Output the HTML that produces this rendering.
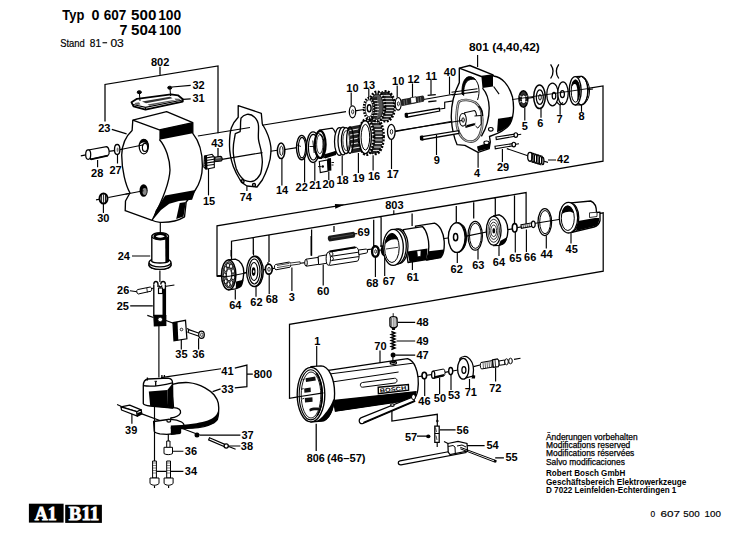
<!DOCTYPE html>
<html><head><meta charset="utf-8"><style>
html,body{margin:0;padding:0;background:#fff;}
svg{display:block;}
</style></head><body>
<svg width="730" height="544" viewBox="0 0 730 544">
<rect width="730" height="544" fill="#fff"/>
<g font-family="Liberation Sans, sans-serif" font-weight="bold" font-size="11" fill="#000">
<text x="151.0" y="65.6">802</text>
<text x="192.4" y="88.5">32</text>
<text x="192.4" y="102.1">31</text>
<text x="98.2" y="131.7">23</text>
<text x="91.1" y="177.2">28</text>
<text x="109.5" y="173.5">27</text>
<text x="97.2" y="221.8">30</text>
<text x="211.2" y="146.7">43</text>
<text x="202.9" y="204.6">15</text>
<text x="239.7" y="200.7">74</text>
<text x="276.0" y="194.1">14</text>
<text x="295.6" y="191.4">22</text>
<text x="309.2" y="189.4">21</text>
<text x="322.4" y="188.2">20</text>
<text x="336.5" y="184.4">18</text>
<text x="352.5" y="182.1">19</text>
<text x="368.0" y="180.3">16</text>
<text x="386.7" y="178.1">17</text>
<text x="346.3" y="91.6">10</text>
<text x="363.0" y="88.7">13</text>
<text x="392.1" y="85.0">10</text>
<text x="407.5" y="82.5">12</text>
<text x="425.6" y="79.5">11</text>
<text x="443.8" y="76.3">40</text>
<text x="521.8" y="129.6">5</text>
<text x="537.2" y="126.7">6</text>
<text x="556.6" y="123.4">7</text>
<text x="578.5" y="120.2">8</text>
<text x="433.8" y="163.8">9</text>
<text x="474.1" y="177.3">4</text>
<text x="496.9" y="171.1">29</text>
<text x="557.1" y="163.3">42</text>
<text x="385.2" y="209.1">803</text>
<text x="357.6" y="236.3">69</text>
<text x="117.7" y="259.7">24</text>
<text x="229.2" y="309.4">64</text>
<text x="250.3" y="305.7">62</text>
<text x="265.7" y="303.2">68</text>
<text x="288.8" y="300.7">3</text>
<text x="317.1" y="295.0">60</text>
<text x="366.2" y="286.6">68</text>
<text x="382.8" y="285.1">67</text>
<text x="406.7" y="280.8">61</text>
<text x="450.6" y="272.7">62</text>
<text x="472.2" y="268.9">63</text>
<text x="492.8" y="265.5">64</text>
<text x="509.3" y="262.4">65</text>
<text x="524.1" y="261.0">66</text>
<text x="540.5" y="257.5">44</text>
<text x="565.6" y="252.7">45</text>
<text x="117.1" y="293.5">26</text>
<text x="116.7" y="309.9">25</text>
<text x="175.3" y="358.2">35</text>
<text x="192.3" y="358.2">36</text>
<text x="221.3" y="374.6">41</text>
<text x="253.7" y="378.1">800</text>
<text x="221.3" y="393.4">33</text>
<text x="125.1" y="434.4">39</text>
<text x="184.8" y="455.3">36</text>
<text x="241.4" y="438.5">37</text>
<text x="240.8" y="450.1">38</text>
<text x="184.8" y="475.2">34</text>
<text x="314.2" y="345.0">1</text>
<text x="374.3" y="350.0">70</text>
<text x="416.5" y="325.6">48</text>
<text x="416.5" y="345.0">49</text>
<text x="416.5" y="358.6">47</text>
<text x="418.3" y="404.6">46</text>
<text x="433.8" y="401.7">50</text>
<text x="447.9" y="399.2">53</text>
<text x="464.7" y="396.3">71</text>
<text x="489.2" y="391.5">72</text>
<text x="456.6" y="433.9">56</text>
<text x="405.0" y="440.5">57</text>
<text x="486.5" y="449.0">54</text>
<text x="505.5" y="460.9">55</text>
</g>
<!-- header -->
<g font-family="Liberation Sans, sans-serif" font-weight="bold" font-size="14.3" fill="#000">
<text x="62.3" y="19.6" textLength="22" lengthAdjust="spacingAndGlyphs">Typ</text>
<text x="91.6" y="19.6">0</text>
<text x="103.7" y="19.6" textLength="22.6" lengthAdjust="spacingAndGlyphs">607</text>
<text x="131.1" y="19.6" textLength="25.3" lengthAdjust="spacingAndGlyphs">500</text>
<text x="158.2" y="19.6" textLength="23" lengthAdjust="spacingAndGlyphs">100</text>
<text x="119.4" y="35">7</text>
<text x="131.1" y="35" textLength="25.3" lengthAdjust="spacingAndGlyphs">504</text>
<text x="158.9" y="35" textLength="22.3" lengthAdjust="spacingAndGlyphs">100</text>
</g>
<g font-family="Liberation Sans, sans-serif" font-size="11.3" fill="#000" stroke="#000" stroke-width="0.2">
<text x="60.2" y="46.8" textLength="24.6" lengthAdjust="spacingAndGlyphs">Stand</text>
<text x="89.8" y="46.8" textLength="11.2" lengthAdjust="spacingAndGlyphs">81</text>
<text x="110.4" y="46.8" textLength="13.4" lengthAdjust="spacingAndGlyphs">03</text>
</g>
<rect x="102.5" y="42.2" width="4.6" height="1.1" fill="#000"/>
<!-- footer -->
<g font-family="Liberation Sans, sans-serif" font-size="8.7" fill="#000" stroke="#000" stroke-width="0.25">
<text x="546" y="439.5" textLength="91.6" lengthAdjust="spacingAndGlyphs">Änderungen vorbehalten</text>
<text x="546" y="447.6" textLength="84.3" lengthAdjust="spacingAndGlyphs">Modifications reserved</text>
<text x="546" y="455.9" textLength="88.3" lengthAdjust="spacingAndGlyphs">Modifications réservées</text>
<text x="546" y="464.6" textLength="78.9" lengthAdjust="spacingAndGlyphs">Salvo modificaciones</text>
</g>
<g font-family="Liberation Sans, sans-serif" font-size="8.7" font-weight="bold" fill="#000">
<text x="546" y="476" textLength="79.3" lengthAdjust="spacingAndGlyphs">Robert Bosch GmbH</text>
<text x="546" y="485.4" textLength="140.2" lengthAdjust="spacingAndGlyphs">Geschäftsbereich Elektrowerkzeuge</text>
<text x="546" y="493.2" textLength="130.4" lengthAdjust="spacingAndGlyphs">D 7022 Leinfelden-Echterdingen 1</text>
</g>
<g font-family="Liberation Sans, sans-serif" font-size="8.3" fill="#000" stroke="#000" stroke-width="0.15">
<text x="650.6" y="517.4">0</text>
<text x="660.5" y="517.4" textLength="19.5" lengthAdjust="spacingAndGlyphs">607</text>
<text x="683.3" y="517.4" textLength="16.3" lengthAdjust="spacingAndGlyphs">500</text>
<text x="704.6" y="517.4" textLength="16.3" lengthAdjust="spacingAndGlyphs">100</text>
</g>
<!-- A1 B11 -->
<rect x="28.9" y="503.7" width="34.7" height="18.9" fill="#000"/>
<rect x="65.2" y="504.8" width="36.7" height="18.1" fill="#000"/>
<g font-family="Liberation Serif, serif" font-weight="bold" font-size="18" fill="#fff" stroke="#fff" stroke-width="0.8">
<text x="34.8" y="519.6" textLength="22" lengthAdjust="spacingAndGlyphs">A1</text>
<text x="68.8" y="519.8" textLength="30.5" lengthAdjust="spacingAndGlyphs">B11</text>
</g>

<!-- lines -->
<g stroke="#000" stroke-width="1.25" fill="none" stroke-linecap="butt">
<!-- 802 bracket -->
<path d="M160,66.8V74.7 M105,121.5V84.5L218,66V133.2 M218,148V157"/>
<path d="M111.8,129.4L126.6,133.8 M172,87L190.7,85.3 M183,99.3L190.7,98.8"/>
<!-- top group box -->
<path d="M588.1,88.4L603,85.9V161.1L420,192.3L217,225.8V275.6H222.3"/>
<!-- 803 bracket -->
<path d="M231.5,259V241.2L526.1,192.6V224.4 M253.3,237.6V254 M269,235V262 M311.6,229.6V255.7 M334,226V232 M373.7,219.7V247 M381.1,217.2V247 M412.1,213.5V226 M456.3,206V223.4 M473.7,202.3V218.5 M495.3,198.6V216 M514.5,195.4V224.4"/>
<!-- middle box right & 806 box -->
<path d="M597.5,213.8L603.2,212.8V271.1L430,301.1L289.5,324.4V398.3L298,396.9"/>
<!-- 800 bracket -->
<path d="M234.8,368.2L246.9,365.1V386.7L234.8,387.8 M246.9,374H252.8"/>
<!-- 806 leader -->
<path d="M316.2,423.7V451.1"/>
<!-- trigger to 56 bracket -->
<path d="M391.9,410.4V421.1L437.3,414.3V420.1"/>
</g>
<!-- axis lines left group -->
<g stroke="#000" stroke-width="1.15" fill="none">
<path d="M80.8,155.9 L86,154.9 M108.6,151.4 L116.1,150.4 M119.5,149.8 L143.8,144.6"/>
<path d="M96,199.9 L99.4,199.3 M108.3,197.5 L143.5,190.6"/>
<path d="M197.9,136 L250,127.5 M262,125.3 L346,111.6"/>
<path d="M222,159.4 L262.5,152.6 M270.5,151.3 L277.5,150.2"/>
</g>
<!-- housing 23 -->
<g stroke="#000" stroke-width="1.35" fill="#fff" stroke-linejoin="round">
<path d="M132.8,120.2 L166.6,111.6 L192.8,122.7 L192.8,133.3 C199,141 202.5,153 202.4,165.7 C202.3,177 199.5,184 195,190.5 L186.2,202 L184.5,216.9 C178,221 170,222.6 160,222.3 C156,222 153.5,221.2 152.1,220.3 L125.2,210.7 L125.5,201 L128.8,195 L130,193 C125.5,185 121.8,170 121.7,155 C122,145 125,137 132.1,130.5 Z"/>
<path d="M132.8,120.2 L159.4,129.8 L192.8,122.7" fill="none"/>
<path d="M159.4,139.5 C166,147 170,160 170,170 C169.5,185 160,205 152.1,220.3" fill="none"/>
</g>
<path d="M159.4,129.8 L192.8,122.7 L192.8,133.3 L159.4,139.8 Z" fill="#000"/>
<path d="M165.2,195.5 L195.5,190 L192.1,199.7 L179,201 L169.3,203.8 L161,210 L152.8,219.7 L155.5,210.7 L160.3,203.1 Z" fill="#000"/>
<path d="M179.7,203.1 L185.9,202 L183.5,216.5 L176.2,219 Z" fill="#000"/>
<!-- holes -->
<ellipse cx="143.8" cy="146.6" rx="4.6" ry="7.3" fill="#fff" stroke="#000" stroke-width="1.25"/>
<path d="M139.6,145 C140,140 143,139.3 145.5,139.6 C148,140.5 148.5,143.5 148.2,146 C147,143 145,142 143,142.5 C141,143 140,144 139.6,145 Z" fill="#000"/>
<ellipse cx="145" cy="147.4" rx="2.6" ry="4" fill="none" stroke="#000" stroke-width="1.15"/>
<ellipse cx="143.6" cy="190.5" rx="4.1" ry="6.3" fill="#000"/>
<ellipse cx="144.6" cy="191.5" rx="2.1" ry="3.4" fill="#888"/>
<path d="M125.5,194.3 L143.5,190.8 M119.5,149.8 L143.8,144.8" stroke="#000" stroke-width="1.15"/>
<!-- 28 -->
<g stroke="#000" stroke-width="1.25" fill="#fff">
<path d="M88.4,150 L106.5,146.6 C109.5,147.5 110,154 107.9,155.5 L90.6,159.3 Z"/>
<ellipse cx="88.2" cy="154.6" rx="2.5" ry="4.8"/>
<path d="M90.8,159.3 L107.9,155.6" stroke-width="1.8"/>
<path d="M97.6,160 V167.2 M117.5,154.5 V163.4" stroke-width="1.15"/>
</g>
<!-- 27 washer -->
<ellipse cx="117.2" cy="149.5" rx="2.7" ry="5" fill="#fff" stroke="#000" stroke-width="1.35"/>
<ellipse cx="117.6" cy="149.7" rx="1" ry="2.3" fill="#777"/>
<!-- 30 -->
<ellipse cx="103.5" cy="198.5" rx="4" ry="5" fill="#fff" stroke="#000" stroke-width="2"/>
<path d="M101.6,195 V202 M103.6,194.3 V202.7 M105.5,195 V202" stroke="#000" stroke-width="0.9"/>
<path d="M103.4,203.6 V212.9" stroke="#000" stroke-width="1.15"/>
<!-- 15 pinion -->
<path d="M204.5,156 L212,154.3 L214.3,157 L214.3,167.5 L206,169.2 L203.8,167 Z" fill="#fff" stroke="#000" stroke-width="1.1"/>
<path d="M204.5,158.2 L213.5,156.6 M204.3,160.7 L214,159.3 M204.2,163.2 L214,161.9 M204.2,165.7 L214,164.5" stroke="#000" stroke-width="1.1"/>
<path d="M204.5,155.8 L207,155.3 L207.5,169 L205,169.2 Z" fill="#000"/>
<path d="M208.5,169 V195.4" stroke="#000" stroke-width="1.15"/>
<!-- 43 pin -->
<path d="M214.3,157.3 L220.5,156.4 C222.5,156.8 222.8,160.2 221.3,161 L214.8,161.7 Z" fill="#444" stroke="#000" stroke-width="1.1"/>
<path d="M216,158.2 L220.5,157.6" stroke="#ccc" stroke-width="0.8"/>
<!-- gasket 74 -->
<g stroke="#000" stroke-width="1.35" fill="none" stroke-linejoin="round">
<path d="M238.2,105.6 L261.3,113.3 L262.3,124 C264.5,127.5 266.5,131 268.1,135.6 C270,141 271.2,146 271,151 C270.8,157 269.8,162 268.1,166.5 C266.5,171 264.5,176 262.3,180 L257,187 L246.9,186 C244,184.5 242,182.5 240.1,180 C237,175 235,171 233.3,166.5 C231,160 229.5,153 229.5,145.2 C229.5,138 230,132 231.4,127.8 C233,123 235.5,120 238.2,117.2 Z"/>
<path d="M241,118.2 C242.5,116 244.5,114.8 246.9,114.3 C249.5,114 252.5,115 254.6,117.2 C257,119.5 258.3,122.5 258.5,125.9 C258.8,130 258,135 258.5,139.4 C259,144 261,148 261.4,153 C262,157 262.5,160 262.3,162.6 C262,167 261.5,171 260.4,174.2 C258.5,177.5 256,180 253.6,181 C250.5,182 247,181.5 244,180 C240.5,177 238,173 236.2,168.4 C234.5,163 233.5,158 233.3,153 C233,148 233.5,143 234.3,139.4 L235.3,133.6 L240.1,131.7 L240.5,127 C240.5,124 240.5,121 241,118.2 Z"/>
<circle cx="242.6" cy="181.2" r="1.5"/>
<circle cx="254" cy="185" r="1.5"/>
<path d="M246.9,186.3 V191" stroke-width="1.15"/>
</g>
<!-- upper axis continues -->
<g stroke="#000" stroke-width="1.15" fill="none">
<path d="M355,110.9 L364,109.5 M401.3,103.6 L403,103.3 M423.5,99.5 L455,94"/>
<path d="M283.5,149.8 L297,147.6 M394.7,131.6 L455,120.7"/>
</g>
<!-- washer 14 -->
<ellipse cx="281.1" cy="150.8" rx="3.7" ry="7.8" fill="#fff" stroke="#000" stroke-width="1.5"/>
<ellipse cx="281.4" cy="150.8" rx="1.7" ry="4.6" fill="#fff" stroke="#000" stroke-width="1"/>
<path d="M281.9,158.6 V185.5" stroke="#000" stroke-width="1.15"/>
<!-- ring 22 -->
<ellipse cx="301.7" cy="147.6" rx="5.2" ry="12.2" fill="#fff" stroke="#000" stroke-width="1.4"/>
<ellipse cx="302" cy="147.6" rx="3.6" ry="10.2" fill="none" stroke="#000" stroke-width="1.1"/>
<path d="M297,145 L301,146.5" stroke="#000" stroke-width="0.8"/>
<path d="M304.6,157.4 V182.5" stroke="#000" stroke-width="1.15"/>
<!-- ring 21 -->
<ellipse cx="313.1" cy="147.2" rx="6.6" ry="15.3" fill="#fff" stroke="#000" stroke-width="1.4"/>
<ellipse cx="313.3" cy="147.2" rx="4.9" ry="12.8" fill="none" stroke="#000" stroke-width="1.15"/>
<path d="M309.5,146.5 H316.5 M312.8,140.5 L314.2,153" stroke="#000" stroke-width="0.9"/>
<path d="M314.8,162.5 V180.8" stroke="#000" stroke-width="1.15"/>
<!-- part 20 bearing holder -->
<path d="M319.5,130.2 L332.1,128.1 C336.5,131 337.8,142 336.9,151 L324,157.5 Z" fill="#fff" stroke="#000" stroke-width="1.25"/>
<path d="M324,154.5 L336.9,150.5 L336,155 L325,158.5 Z" fill="#000"/>
<ellipse cx="320.2" cy="144.4" rx="5.4" ry="13.6" fill="#fff" stroke="#000" stroke-width="2.2"/>
<path d="M317.5,133.5 C322,132 324.5,138 324.8,145 C325,151 323.5,156 321,157 C323,152 323.5,147 323.2,142 C323,138 321,134.5 317.5,133.5 Z" fill="#000"/>
<ellipse cx="319.8" cy="144.2" rx="3.2" ry="9.5" fill="none" stroke="#000" stroke-width="0.8"/>
<path d="M319.3,161.5 L327.5,160 L328,171 L320.3,172.5 Z" fill="#fff" stroke="#000" stroke-width="1.1"/>
<path d="M327.5,158.5 L331,158 L331.4,170.5 L328,171 Z" fill="#000"/>
<circle cx="322.8" cy="166.5" r="1.2" fill="#000"/>
<path d="M318,166.6 L321.5,166.6" stroke="#000" stroke-width="0.9"/>
<path d="M331.5,162.5 H334 M331.5,165 H333.5" stroke="#000" stroke-width="0.9"/>
<path d="M328.8,171.5 V180" stroke="#000" stroke-width="1.15"/>
<!-- rings 18 -->
<ellipse cx="339.5" cy="141.5" rx="5" ry="13.8" fill="#fff" stroke="#000" stroke-width="1.25"/>
<ellipse cx="343" cy="141" rx="5" ry="13.8" fill="#fff" stroke="#000" stroke-width="1.25"/>
<ellipse cx="346" cy="140.6" rx="4.6" ry="13" fill="#fff" stroke="#000" stroke-width="1.25"/>
<ellipse cx="346.2" cy="140.6" rx="3.3" ry="10" fill="none" stroke="#000" stroke-width="0.8"/>
<path d="M342.2,155.5 V175.5" stroke="#000" stroke-width="1.15"/>
<!-- 19 spline -->
<path d="M348.5,127 L361.5,124.6 L365.5,150.8 L352,153.2 Z" fill="#222"/>
<path d="M349.5,130.5 L362.5,128.2 M350,135 L363.2,132.7 M350.5,139.5 L364,137.2 M351,144 L364.6,141.7 M351.4,148.5 L365,146.2" stroke="#eee" stroke-width="1.1"/>
<ellipse cx="350" cy="140.2" rx="3.4" ry="13.2" fill="none" stroke="#000" stroke-width="1.3"/>
<path d="M358.4,153 V173" stroke="#000" stroke-width="1.15"/>
<!-- gear 16 -->
<ellipse cx="375.5" cy="136.3" rx="7.8" ry="17.3" fill="#333" stroke="#000" stroke-width="3.2" stroke-dasharray="1.8 1.4"/>
<path d="M366,119 L375.5,119 L375.5,153.6 L366,154 Z" fill="#222"/>
<path d="M366,122.5 H379 M366,126 H381 M366,129.5 H382 M366,133 H382.5 M366,136.5 H382.5 M366,140 H382.5 M366,143.5 H382 M366,147 H381 M366,150.5 H379" stroke="#ddd" stroke-width="1"/>
<ellipse cx="366.5" cy="137" rx="7.4" ry="17.6" fill="#fff" stroke="#000" stroke-width="3" stroke-dasharray="1.8 1.4" stroke-dashoffset="0.5"/>
<ellipse cx="365.2" cy="137.2" rx="6.2" ry="16.4" fill="#fff" stroke="#000" stroke-width="1.4"/>
<ellipse cx="365.4" cy="137.2" rx="4.3" ry="12.8" fill="#fff" stroke="#000" stroke-width="1"/>
<path d="M373.1,155.3 V170.5" stroke="#000" stroke-width="1.15"/>
<!-- washer 17 -->
<ellipse cx="391.3" cy="131.8" rx="3.8" ry="7.5" fill="#fff" stroke="#000" stroke-width="1.25"/>
<ellipse cx="391.5" cy="131.8" rx="1.2" ry="2.3" fill="#fff" stroke="#000" stroke-width="0.8"/>
<path d="M391.5,139.3 V169" stroke="#000" stroke-width="1.15"/>
<!-- washer 10 left -->
<ellipse cx="352.5" cy="111.8" rx="3.2" ry="6" fill="#fff" stroke="#000" stroke-width="1.25"/>
<ellipse cx="352.7" cy="111.8" rx="1.1" ry="2" fill="#fff" stroke="#000" stroke-width="0.8"/>
<path d="M351.2,92.5 V105.8" stroke="#000" stroke-width="1.15"/>
<!-- gear 13 -->
<ellipse cx="386" cy="106.3" rx="8.6" ry="14.8" fill="#333" stroke="#000" stroke-width="3" stroke-dasharray="1.8 1.4"/>
<path d="M377,92.5 L386,91.8 L386,121 L377,121 Z" fill="#222"/>
<path d="M377,95.5 H390 M377,98.5 H392 M377,101.5 H393.5 M377,104.5 H394 M377,107.5 H394 M377,110.5 H393.5 M377,113.5 H392.5 M377,116.5 H391 M377,119.3 H388.5" stroke="#ddd" stroke-width="0.9"/>
<ellipse cx="377" cy="106.6" rx="7.8" ry="14.6" fill="#fff" stroke="#000" stroke-width="3" stroke-dasharray="1.8 1.4"/>
<ellipse cx="377" cy="106.6" rx="6.3" ry="12.8" fill="#555" stroke="#000" stroke-width="0.8"/>
<path d="M369,98 L377,97 L377,117.5 L369,118.6 Z" fill="#222"/>
<path d="M369,100.5 H377.5 M369,103.5 H378.5 M369,106.5 H379 M369,109.5 H379 M369,112.5 H378.5 M369,115.5 H377.5" stroke="#ddd" stroke-width="0.9"/>
<ellipse cx="369" cy="108.3" rx="5" ry="10.2" fill="#fff" stroke="#000" stroke-width="2.6" stroke-dasharray="1.5 1.2"/>
<ellipse cx="369" cy="108.3" rx="3.8" ry="8.6" fill="#fff" stroke="#000" stroke-width="0.8"/>
<ellipse cx="369.2" cy="108.3" rx="1.9" ry="3.6" fill="#fff" stroke="#000" stroke-width="1.4"/>
<path d="M368.8,89 V97" stroke="#000" stroke-width="1.15"/>
<!-- washer 10 right -->
<ellipse cx="398.2" cy="103.8" rx="3" ry="6.3" fill="#fff" stroke="#000" stroke-width="1.25"/>
<ellipse cx="398.4" cy="103.8" rx="1" ry="2" fill="#fff" stroke="#000" stroke-width="0.8"/>
<path d="M397.2,85.5 V97.3" stroke="#000" stroke-width="1.15"/>
<!-- 12 -->
<path d="M401.8,99.2 L423,95.4 C424.8,96.5 424.8,101 423.3,101.8 L402.5,106 C400.5,105 400.5,100.5 401.8,99.2 Z" fill="#222"/>
<path d="M404,100 L404.5,105 M406.5,99.5 L407,104.5 M418,97.4 L418.5,102.6 M420.5,97 L421,102" stroke="#888" stroke-width="0.7"/>
<path d="M410.4,97.8 L416,96.8 L416.6,102.4 L411,103.5 Z" fill="#fff" stroke="#000" stroke-width="0.7"/>
<path d="M412.5,83.5 V97" stroke="#000" stroke-width="1.15"/>
<!-- 11 -->
<path d="M427.6,95.4 L435.8,94.6 M428.3,101.8 L436.5,100.9" stroke="#000" stroke-width="1.4"/>
<path d="M431,80 V94.7" stroke="#000" stroke-width="1.15"/>
<!-- 40 leader -->
<path d="M449.5,76.5 V94.5" stroke="#000" stroke-width="1.15"/>
<!-- 9 upper rod -->
<path d="M406.5,113.8 L439.3,108.3 L439.7,111 L406.9,117.2 Z" fill="#fff" stroke="#000" stroke-width="1.2"/>
<path d="M404.6,114 C404.4,113 406.3,112.6 407.6,112.8 L408.2,117.4 C406.8,117.9 405,117.8 404.8,117 Z" fill="#000"/>
<path d="M440,109 L444.7,108.2 V102.2 L455,100.6" stroke="#000" stroke-width="1.15" fill="none"/>
<!-- housing 4 (801) -->
<path d="M477.6,55 V67" stroke="#000" stroke-width="1.15"/>
<g stroke="#000" stroke-width="1.35" fill="#fff" stroke-linejoin="round">
<path d="M459.3,68.2 L469.8,65.5 L493,74.9 L493.6,76 C502,77 509,85 512.5,97 C514.5,108 513,118 510,124 C506,130 498,133.5 489.5,136.5 L490.3,141.9 L489.2,148.6 L478.1,152.4 L464.9,145.3 L457.1,144.7 C455,140 452,130 451.3,118 C451,106 453,95 459.3,82.6 Z"/>
<path d="M459.3,68.2 L481.4,76.5 L493,74.9" fill="none"/>
<path d="M482.5,88.1 C486,92 489,100 489.2,108 C489.2,118 487,127 481.4,136.4" fill="none"/>
<path d="M493.6,86.5 L499.1,94.2" fill="none" stroke-width="1.15"/>
<path d="M459,101.6 C463,99 470,99.5 475.6,102.7 C479,105.5 481,109 481.6,113 C482.5,118 482.5,123 482,127 C481,131.5 480.5,134 478.5,137 C476.5,140 474.5,141.3 471.5,141.6 C467.5,141.8 464.5,140.5 462,137.5 C459.5,134.5 457.8,130.5 457,126 C456.3,121 456.3,115 457,110.5 C457.5,106 458,103.5 459,101.6 Z" stroke-width="2.6" stroke="#444"/>
<path d="M459,101.6 C463,99 470,99.5 475.6,102.7 C479,105.5 481,109 481.6,113 C482.5,118 482.5,123 482,127 C481,131.5 480.5,134 478.5,137 C476.5,140 474.5,141.3 471.5,141.6 C467.5,141.8 464.5,140.5 462,137.5 C459.5,134.5 457.8,130.5 457,126 C456.3,121 456.3,115 457,110.5 C457.5,106 458,103.5 459,101.6 Z" fill="none" stroke-width="0.7" stroke="#fff"/>
<path d="M463,95 C462,86 464,79 468.5,77 C473,76 477,80 478.5,86 C479.5,91 479,96 477.5,100" fill="none" stroke-width="1"/>
</g>
<path d="M481.4,76.5 L493,74.9 L493,86.5 L482.5,88.1 Z" fill="#000"/>
<path d="M462,94 C461.5,87 463,80 467,77.2 C470,76.3 473,77 475.5,79.5 C472,78.8 468.5,79.5 466.5,82 C464.5,85 463.5,89 463.8,95.5 Z" fill="#000" stroke="#000" stroke-width="0.8"/>
<path d="M498,118.8 L512.3,116.6 C511.5,121 510.5,123.5 509,125.4 C506,128 503,130 497,132.3 Z" fill="#000"/>
<path d="M477,146.4 L490.3,141.9 L489.2,148.6 L478.1,151.2 Z" fill="#000"/>
<!-- boss -->
<path d="M464.6,112.7 L474.5,110.5 C477,112 477.5,122 474.5,124.8 L466,127.2 Z" fill="#fff" stroke="#000" stroke-width="1.1"/>
<path d="M467,125 L474.8,123 C474.6,124 474.5,124.5 474.5,124.8 L466,127.3 Z" fill="#000"/>
<path d="M474.5,116 L481,115.5 L481.2,124 L477.8,128.1 L475.5,126" fill="#fff" stroke="#000" stroke-width="1"/>
<ellipse cx="462.9" cy="119.8" rx="3.4" ry="6.3" fill="#fff" stroke="#000" stroke-width="1.1"/>
<ellipse cx="463.1" cy="120" rx="1.2" ry="2.2" fill="#fff" stroke="#000" stroke-width="1"/>
<path d="M478.5,106 C481,108 482.5,112 482.5,116" stroke="#000" stroke-width="1.6" fill="none"/>
<ellipse cx="490.8" cy="129.3" rx="2.3" ry="1.8" fill="#fff" stroke="#000" stroke-width="1.15"/>
<ellipse cx="486.5" cy="142.8" rx="2.6" ry="1.8" fill="#fff" stroke="#000" stroke-width="1.15"/>
<!-- rod 40 through top -->
<path d="M451.5,92.2 L477.5,88.8 M451.8,95 L477.8,91.6" stroke="#000" stroke-width="1.15"/>
<path d="M395,131 L462,120.5" stroke="#000" stroke-width="1.15"/>
<!-- lower rod 9 -->
<path d="M422,136.6 L458.6,130.6 L459,133.4 L422.4,139.7 Z" fill="#fff" stroke="#000" stroke-width="1.2"/>
<path d="M419.8,136.8 C419.6,135.8 421.5,135.4 423,135.6 L423.6,140.3 C422,140.8 420.2,140.6 420,139.8 Z" fill="#000"/>
<path d="M436.5,135 V155" stroke="#000" stroke-width="1.15"/>
<!-- screws 29 -->
<g stroke="#000" stroke-width="1.15" fill="#fff">
<path d="M496,137 L514.5,134.2 L514.8,136.3 L496.3,139.5 Z"/>
<ellipse cx="515.8" cy="135" rx="1.8" ry="2.3"/>
<path d="M495,146.3 L512.5,143.6 L512.8,145.8 L495.3,148.8 Z"/>
<ellipse cx="513.8" cy="144.5" rx="1.8" ry="2.3"/>
<path d="M517.8,134.7 L521.2,134.2 M515.8,144.3 L519,143.8" fill="none"/>
<path d="M478.1,152.4 V167.8 M502.4,149 V162" fill="none"/>
<path d="M506.8,148.6 L530,156.5" fill="none"/>
</g>
<!-- spring 42 -->
<g stroke="#000" fill="none">
<path d="M530.5,152.5 L543,156.5 M528.8,161 L541.3,165" stroke-width="0.9"/>
<ellipse cx="530" cy="156.8" rx="2.3" ry="4.4" fill="#fff" stroke-width="1.3"/>
<ellipse cx="533" cy="157.8" rx="1.2" ry="4.3" stroke-width="1.3"/>
<ellipse cx="535.5" cy="158.6" rx="1.2" ry="4.3" stroke-width="1.3"/>
<ellipse cx="538" cy="159.4" rx="1.2" ry="4.2" stroke-width="1.3"/>
<ellipse cx="540.5" cy="160.2" rx="1.2" ry="4" stroke-width="1.3"/>
<ellipse cx="542.8" cy="161" rx="1.1" ry="3.6" stroke-width="1.3"/>
<path d="M544,161.3 L548,162.4 M548,160 H556" stroke-width="1.15"/>
</g>
<!-- nut 5 -->
<ellipse cx="523.4" cy="99" rx="4.4" ry="8.2" fill="#333" stroke="#000" stroke-width="1.6"/>
<ellipse cx="523.6" cy="99.3" rx="2.3" ry="4.4" fill="#fff" stroke="#000" stroke-width="1"/>
<path d="M519.5,96 L521.5,96.5 M519.5,102 L521.5,101.5 M525.5,96.5 L527.5,96 M525.5,101.5 L527.5,102" stroke="#fff" stroke-width="0.9"/>
<path d="M524.8,107.3 V120.5" stroke="#000" stroke-width="1.15"/>
<!-- washer 6 -->
<ellipse cx="539.5" cy="96.8" rx="5.8" ry="11.8" fill="#fff" stroke="#000" stroke-width="1.5"/>
<ellipse cx="539.8" cy="97.2" rx="3.5" ry="7.3" fill="none" stroke="#000" stroke-width="1.25"/>
<ellipse cx="540" cy="97.3" rx="1.3" ry="2.8" fill="none" stroke="#000" stroke-width="1"/>
<path d="M541,108.8 V117.8" stroke="#000" stroke-width="1.15"/>
<!-- 7 -->
<ellipse cx="552.5" cy="94.4" rx="5.7" ry="11.4" fill="#fff" stroke="#000" stroke-width="1.25"/>
<ellipse cx="554" cy="95.8" rx="1.8" ry="3.4" fill="none" stroke="#000" stroke-width="1.25"/>
<ellipse cx="563" cy="93.2" rx="5.2" ry="11.4" fill="#fff" stroke="#000" stroke-width="1.25"/>
<ellipse cx="562.4" cy="94.2" rx="2" ry="3.5" fill="none" stroke="#000" stroke-width="1.25"/>
<path d="M556.3,101.8 L560.1,105.2 L562.9,102.3 M560.1,105.2 V114.8" stroke="#000" stroke-width="1.15" fill="none"/>
<!-- 8 -->
<ellipse cx="581.5" cy="90.6" rx="6.3" ry="14.3" fill="#fff" stroke="#000" stroke-width="1.25"/>
<path d="M582,77 C586,79 588,85 588,91 C588,97 586,102 582,104.5 M584.5,77.8 C587.5,80.5 589.5,85.5 589.5,91 C589.5,96.5 587.5,101 584.5,103.8" fill="none" stroke="#000" stroke-width="1"/>
<path d="M575,76.6 L581.5,76.3 M575,105 L581.5,104.9" stroke="#000" stroke-width="1.2"/>
<ellipse cx="575.2" cy="90.8" rx="6" ry="14.2" fill="#fff" stroke="#000" stroke-width="1.35"/>
<ellipse cx="575.5" cy="91" rx="4.3" ry="11.2" fill="#fff" stroke="#000" stroke-width="1"/>
<path d="M571.5,88 C571.5,82 573.5,79.8 576,80 C578.5,80.5 579.8,85 579.8,91 C579.5,96 578.5,100 577,101.8 C577.8,96 577.8,90 576.6,86 C575.5,83 573,83.5 571.5,88 Z" fill="#000"/>
<path d="M581.5,104.8 V111.8" stroke="#000" stroke-width="1.15"/>
<path d="M528,98.3 L533.7,97.4 M545.3,96 L546.5,95.8 M558,94.5 L558,94.5 M587,89.8 L593,89" stroke="#000" stroke-width="1.15"/>
<path d="M512,99.6 L588,88.6" stroke="#000" stroke-width="0.9"/>
<!-- middle group axis -->
<g stroke="#000" stroke-width="1.15" fill="none">
<path d="M223.3,275.7 L253.1,271.5 M258,270.7 L266,269.4 M272,268.6 L275,268.2"/>
<path d="M290.3,264.5 L300.1,263.3 L305.6,262.6"/>
<path d="M367.2,249.6 L372.5,249 M378.5,250.3 L382,250 M386,249.6 L398,248"/>
<path d="M426,241 L448,238 M465.3,236.4 L492.5,230.8 M507.9,229.6 L514,228.6 M516.5,227.7 L521.4,226.9 M534,223.5 L562,219"/>
</g>
<!-- bearing 64 left -->
<path d="M228.7,259.9 L235.3,259.1 C240.5,260.5 244,266 243.8,272.5 C243.6,280 241,286.5 235.7,288.9 L228.7,289.7 Z" fill="#fff" stroke="#000" stroke-width="1.35"/>
<path d="M236.1,281.5 L243.6,279.8 C243.2,283 242.2,285.5 241.5,286.4 C240,288 238,288.8 235.7,288.9 Z" fill="#000"/>
<ellipse cx="228.7" cy="274.8" rx="7.2" ry="14.9" fill="#fff" stroke="#000" stroke-width="1.5"/>
<ellipse cx="228.9" cy="274.8" rx="6" ry="13.2" fill="#888" stroke="#000" stroke-width="0.8"/>
<ellipse cx="229" cy="274.8" rx="2.6" ry="6" fill="#fff" stroke="#000" stroke-width="0.8"/>
<ellipse cx="233.1" cy="277.6" rx="1.5" ry="2.3" fill="#fff" stroke="#000" stroke-width="0.9"/>
<ellipse cx="231.3" cy="282.9" rx="1.5" ry="2.3" fill="#fff" stroke="#000" stroke-width="0.9"/>
<ellipse cx="228.5" cy="284.3" rx="1.5" ry="2.3" fill="#fff" stroke="#000" stroke-width="0.9"/>
<ellipse cx="225.8" cy="281.3" rx="1.5" ry="2.3" fill="#fff" stroke="#000" stroke-width="0.9"/>
<ellipse cx="224.7" cy="275.3" rx="1.5" ry="2.3" fill="#fff" stroke="#000" stroke-width="0.9"/>
<ellipse cx="225.6" cy="269.0" rx="1.5" ry="2.3" fill="#fff" stroke="#000" stroke-width="0.9"/>
<ellipse cx="228.0" cy="265.4" rx="1.5" ry="2.3" fill="#fff" stroke="#000" stroke-width="0.9"/>
<ellipse cx="231.0" cy="266.3" rx="1.5" ry="2.3" fill="#fff" stroke="#000" stroke-width="0.9"/>
<ellipse cx="233.0" cy="271.1" rx="1.5" ry="2.3" fill="#fff" stroke="#000" stroke-width="0.9"/>
<path d="M216.7,276.5 L229,276.3 L253,271.6" stroke="#000" stroke-width="1" fill="none"/>
<path d="M231.1,250 V256.6 M235.3,289.7 V299.5" stroke="#000" stroke-width="1.15"/>
<!-- disk 62 left -->
<ellipse cx="255.3" cy="271.3" rx="8" ry="15" fill="#fff" stroke="#000" stroke-width="1.35"/>
<path d="M261,282 C262.5,278 263.2,274 263,270 L263.3,271.5 C263.3,279 261,284.5 257,286.3 Z" fill="#000"/>
<ellipse cx="254.3" cy="271.5" rx="7.7" ry="15" fill="#fff" stroke="#000" stroke-width="1.35"/>
<ellipse cx="254.3" cy="271.5" rx="5.7" ry="12.5" fill="none" stroke="#000" stroke-width="1.15"/>
<ellipse cx="254" cy="271.5" rx="3.8" ry="9" fill="none" stroke="#000" stroke-width="1.15"/>
<ellipse cx="253.6" cy="271.6" rx="1.9" ry="4.3" fill="#000"/>
<ellipse cx="253.7" cy="271.6" rx="0.7" ry="1.5" fill="#fff"/>
<path d="M253.5,250 V255.5 M256,286.4 V296.8" stroke="#000" stroke-width="1.15"/>
<!-- washer 68 left -->
<ellipse cx="268.8" cy="269.2" rx="3.4" ry="5" fill="#fff" stroke="#000" stroke-width="1.8"/>
<ellipse cx="269" cy="269.3" rx="1.2" ry="2" fill="#fff" stroke="#000" stroke-width="0.8"/>
<path d="M268,262 V264 M269.2,274.4 V294" stroke="#000" stroke-width="1.15"/>
<!-- 3 -->
<path d="M275.5,264.5 L289.5,262 C291,262.5 291.2,266.5 290,267.2 L276,269.8 C274,269.5 274,265 275.5,264.5 Z" fill="#fff" stroke="#000" stroke-width="1"/>
<path d="M277,265.5 L289.5,263.3 M277,267.6 L289.7,265.4" stroke="#000" stroke-width="0.7"/>
<path d="M290.3,263 L300.1,261.8 L300.3,264 L290.5,265.3" fill="#fff" stroke="#000" stroke-width="0.8"/>
<path d="M291.9,267.5 V291" stroke="#000" stroke-width="1.15"/>
<!-- 60 shaft and armature -->
<g stroke="#000" stroke-width="1" fill="#fff">
<path d="M306,259.2 L318.2,257.4 L318.6,264.3 L306.3,266.2 Z"/>
<ellipse cx="306" cy="262.7" rx="1.3" ry="3.3"/>
<path d="M318.2,256.3 L330.3,254.3 L330.6,262.6 L318.6,264.6 Z"/>
<path d="M328.5,252 L356.5,247.4 C359.5,248.5 360,259 357.6,261.1 L329.8,265.4 C326.5,264 326,253.5 328.5,252 Z"/>
<path d="M331,256.3 L358.5,252.2 M331.5,260.5 L358.8,256.6" fill="none"/>
<path d="M329.5,251.5 L355.5,247.2" stroke-width="2" fill="none"/>
<path d="M331,251.5 C333.5,252.5 333.5,255.5 331,256.3 M331.5,256.5 C334,257.3 334,260 331.5,260.8" fill="none" stroke-width="1"/>
<ellipse cx="328.3" cy="258.7" rx="2.2" ry="6.6"/>
<path d="M358.5,250 L366.5,249 C367.8,249.5 367.8,252.5 366.8,253 L358.8,254.5 Z"/>
</g>
<path d="M311.1,236 V255.8 M323.2,264.6 V285.5" stroke="#000" stroke-width="1.15"/>
<!-- 69 brush -->
<path d="M329,235.8 L353.5,231.8 C355.5,232.3 355.8,236.5 354.3,237.4 L329.6,241.4 C327.5,240.9 327.2,236.5 329,235.8 Z" fill="#1a1a1a"/>
<path d="M331,238 L353,234.5" stroke="#666" stroke-width="0.6"/>
<path d="M354.6,233.7 H357.3" stroke="#000" stroke-width="1.15"/>
<!-- 68 right, 67 -->
<ellipse cx="375.4" cy="251.5" rx="3.3" ry="5.3" fill="#fff" stroke="#000" stroke-width="2.4"/>
<ellipse cx="375.6" cy="251.5" rx="0.9" ry="1.8" fill="#fff" stroke="#000" stroke-width="0.8"/>
<ellipse cx="384.6" cy="250.3" rx="2.8" ry="5" fill="#fff" stroke="#000" stroke-width="2.2"/>
<path d="M374.3,245 V246.3 M375.4,256.2 V277 M381.1,245 V247 M384.7,255 V276" stroke="#000" stroke-width="1.15"/>
<!-- 61 stator housing -->
<g stroke="#000" stroke-width="1.35" fill="#fff" stroke-linejoin="round">
<path d="M415.4,226.1 L434.6,223.1 C439.5,225 443.5,232 444.2,241.3 C444.6,249 443.5,254.5 440.7,257.5 L426.5,260 Z"/>
<path d="M403.3,229.7 L422.5,226.6 C427,231 429,240 428.8,247 C428.6,253 427.5,257.5 426.5,259.5 L408,262.5 Z"/>
</g>
<path d="M428.6,251.2 L443.7,249.6 C443.2,253.5 442.2,256 440.7,257.8 L426.5,260.5 C427.5,258 428.3,255 428.6,251.2 Z" fill="#000"/>
<path d="M407.3,251.4 L427.5,248.4 L426.5,259.5 L409.5,262 Z" fill="#000"/>
<path d="M416.8,250.8 L421,250.4 L420.8,256.3 L417.5,256.8 Z" fill="#fff" stroke="#000" stroke-width="0.7"/>
<ellipse cx="398.5" cy="246.3" rx="9.5" ry="17.4" fill="#fff" stroke="#000" stroke-width="1.25"/>
<ellipse cx="396.5" cy="246.6" rx="9.8" ry="17.6" fill="#fff" stroke="#000" stroke-width="1.25"/>
<ellipse cx="393.2" cy="247.4" rx="10.1" ry="18" fill="#fff" stroke="#000" stroke-width="1.3"/>
<ellipse cx="391.9" cy="247.9" rx="7.3" ry="14.6" fill="#fff" stroke="#000" stroke-width="1"/>
<path d="M385,244 C385.5,237 388.5,233.5 392.5,233.5 C395.5,234 397.5,237 398.5,240 C395,238.5 391,239.5 388,241.5 Z" fill="#000"/>
<path d="M386,249 L398,247.3" stroke="#000" stroke-width="0.8"/>
<path d="M412.4,260.5 V270" stroke="#000" stroke-width="1.15"/>
<!-- disk 62 right -->
<ellipse cx="457.4" cy="237.5" rx="8.6" ry="14.8" fill="#fff" stroke="#000" stroke-width="1.35"/>
<path d="M461,249.5 C464,246 465.3,241 465.3,236 C465.3,230 464,226 462,224 C465.5,226 467,231 467,237.5 C467,245 464,251 458.5,252.6 Z" fill="#000"/>
<ellipse cx="456.7" cy="237.6" rx="8.4" ry="14.8" fill="#fff" stroke="#000" stroke-width="1.35"/>
<ellipse cx="455.6" cy="237.2" rx="2.1" ry="3.6" fill="#fff" stroke="#000" stroke-width="1.5"/>
<path d="M457.3,253 V263" stroke="#000" stroke-width="1.15"/>
<!-- ring 63 -->
<ellipse cx="475.2" cy="235.8" rx="7.2" ry="14.4" fill="none" stroke="#000" stroke-width="1.25"/>
<ellipse cx="475.4" cy="235.8" rx="5.9" ry="12.6" fill="none" stroke="#000" stroke-width="1"/>
<path d="M478,249.3 V259.5" stroke="#000" stroke-width="1.15"/>
<!-- bearing 64 right -->
<path d="M493.7,215.8 L499.3,214.8 C504.5,216.5 508,223 507.9,230.8 C507.8,238 505.5,243.5 499.3,245.4 L493.7,245.6 Z" fill="#fff" stroke="#000" stroke-width="1.35"/>
<path d="M500.5,240.7 L507.3,237 C506.5,241 505.5,243 504,244 C502.5,245 500.5,245.5 498.5,245.6 Z" fill="#000"/>
<ellipse cx="493.7" cy="230.8" rx="7.4" ry="14.4" fill="#fff" stroke="#000" stroke-width="1.3"/>
<ellipse cx="493.7" cy="230.8" rx="5.8" ry="11.5" fill="none" stroke="#000" stroke-width="0.8"/>
<ellipse cx="493.7" cy="230.8" rx="4.3" ry="8.6" fill="none" stroke="#000" stroke-width="0.8"/>
<ellipse cx="493.7" cy="230.8" rx="2.9" ry="5.8" fill="none" stroke="#000" stroke-width="0.8"/>
<ellipse cx="493.8" cy="230.8" rx="1.4" ry="2.8" fill="#000"/>
<path d="M499,245.6 V256" stroke="#000" stroke-width="1.15"/>
<!-- washer 65 -->
<ellipse cx="514.7" cy="227.8" rx="2.4" ry="4.2" fill="#fff" stroke="#000" stroke-width="1.6"/>
<path d="M515.3,232 V252.5" stroke="#000" stroke-width="1.15"/>
<!-- screw 66 -->
<path d="M521,224.8 L532,222.8 L532.5,226.3 L521.4,228.3 Z" fill="#fff" stroke="#000" stroke-width="1.15"/>
<path d="M523,224.5 L523.4,228 M525,224.1 L525.4,227.6 M527,223.8 L527.4,227.2 M529,223.4 L529.4,226.9" stroke="#000" stroke-width="0.7"/>
<ellipse cx="533.3" cy="224.3" rx="1.9" ry="3.2" fill="#fff" stroke="#000" stroke-width="1.25"/>
<path d="M526.4,229.6 V252" stroke="#000" stroke-width="1.15"/>
<!-- ring 44 -->
<ellipse cx="544.8" cy="222.1" rx="6.8" ry="13.4" fill="none" stroke="#000" stroke-width="1.25"/>
<ellipse cx="545.1" cy="222.1" rx="5.4" ry="11.6" fill="none" stroke="#000" stroke-width="1"/>
<path d="M546.3,235.5 V248.5" stroke="#000" stroke-width="1.15"/>
<!-- sleeve 45 -->
<g stroke="#000" stroke-width="1.35" fill="#fff" stroke-linejoin="round">
<path d="M568.5,203.2 L590.7,201 C594.5,202.5 596.5,207 596.5,212.5 L600,212.2 L600,220.5 C599.5,223 597.5,226 594,227 L572,232.3 Z"/>
</g>
<path d="M578,221 L595,218 L599,218 C599.5,222 598,225 594,226.6 L576,231 Z" fill="#000"/>
<path d="M589.5,212.8 L597,212.3 L597,216.5 L589.5,217.5 Z" fill="#fff" stroke="#000" stroke-width="0.8"/>
<ellipse cx="570.5" cy="217.7" rx="8.3" ry="14.7" fill="#fff" stroke="#000" stroke-width="1.25"/>
<ellipse cx="568.5" cy="217.7" rx="9.2" ry="15.3" fill="#fff" stroke="#000" stroke-width="1.3"/>
<ellipse cx="567.8" cy="218.2" rx="6.5" ry="12.3" fill="#fff" stroke="#000" stroke-width="1"/>
<path d="M562,214 C562.5,208 565,205.5 568,205.8 C571,206.3 573.2,209.5 574,213.5 C571,211 566,211.5 562,214 Z" fill="#000"/>
<path d="M571,232.8 V243.5" stroke="#000" stroke-width="1.15"/>
<!-- left column -->
<g stroke="#000" stroke-width="1.15" fill="none">
<path d="M160.3,223.1 V234.5 M159.9,270.5 V282 M130,290.7 L137,291.7 M151.5,288.5 L174.4,285"/>
<path d="M132,256 H150.2 M130.2,305.8 H152.8"/>
<path d="M147.3,315.4 L153.5,317.5 M166,320.5 L174,323.5 M187,328.5 L189,329.5"/>
<path d="M158.9,326 V377.5"/>
<path d="M181.3,338.5 V349.5 M198.6,338.3 V349.5"/>
</g>
<!-- 24 sleeve -->
<g stroke="#000" stroke-width="1.35" fill="#fff">
<ellipse cx="160" cy="265" rx="11" ry="4.4"/>
<path d="M149,262.8 V265 A11,4.4 0 0 0 171,265 V262.8" fill="#fff"/>
<ellipse cx="160" cy="262.5" rx="11" ry="4.4"/>
<path d="M151.8,236.2 V261.5 C154,263.5 166,263.5 168.4,261.5 V236.2 Z"/>
<ellipse cx="160.2" cy="236.2" rx="8.3" ry="3.6"/>
</g>
<path d="M165.2,238 L168.4,236.5 V261.5 L165.4,262.6 Z" fill="#000"/>
<ellipse cx="160.2" cy="236.4" rx="5.6" ry="2.5" fill="#fff" stroke="#000" stroke-width="2.4"/>
<!-- 25 rod -->
<g stroke="#000" stroke-width="1.35" fill="#fff">
<path d="M153.8,284.5 V315.5 H165.4 V284.5"/>
<path d="M153.8,284.5 C153.8,280.5 158,280.5 158,284.5 V287 M160.8,284.5 C160.8,280.5 165.4,280.5 165.4,284.5"/>
<path d="M158.8,285.5 C159.5,287.5 161.5,287.5 162,285.5" fill="none"/>
</g>
<path d="M162.5,289 L165.4,288.5 V315 L162.5,315 Z" fill="#000"/>
<rect x="158.5" y="288" width="4" height="5.5" fill="#fff" stroke="#000" stroke-width="1.15"/>
<path d="M153.2,315 L166.4,315 L166.4,326 L153.8,326.4 Z" fill="#000"/>
<circle cx="160.2" cy="319.5" r="2.3" fill="#fff" stroke="#000" stroke-width="0.8"/>
<!-- 26 pin -->
<path d="M137.5,289.6 L150.3,287 C152,287.5 152.2,290.7 151,291.2 L138.2,294 C136.5,293.5 136.3,290.2 137.5,289.6 Z" fill="#fff" stroke="#000" stroke-width="1"/>
<path d="M146.8,288 L147.4,292.4" stroke="#000" stroke-width="0.8"/>
<!-- 35 block -->
<path d="M173,322.6 L185.5,320.3 L186.9,338.8 L174,340.8 Z" fill="#fff" stroke="#000" stroke-width="1.25"/>
<path d="M173,322.6 L177.5,321.8 L178.3,340.2 L174,340.8 Z" fill="#000"/>
<circle cx="181.5" cy="329.5" r="1.3" fill="none" stroke="#000" stroke-width="0.8"/>
<!-- 36 screw upper -->
<path d="M188.8,329.6 L200,333.5 L199.2,336.3 L188,332.5 Z" fill="#fff" stroke="#000" stroke-width="1.15"/>
<ellipse cx="201.5" cy="334.8" rx="2.8" ry="3.6" fill="#fff" stroke="#000" stroke-width="1.25"/>
<ellipse cx="201.8" cy="334.8" rx="1.2" ry="1.8" fill="none" stroke="#000" stroke-width="0.7"/>
<!-- 41 / 33 handle -->
<g stroke="#000" stroke-width="1.15" fill="none">
<path d="M117.1,404.6 L121.5,406.6 M141.8,413.9 L170,424.2 M181,428 L199.5,435 M212.5,440 L235.6,449.2"/>
<path d="M161,377.6 L221,368.8 M212.6,391.6 L220.6,388.9"/>
</g>
<g stroke="#000" stroke-width="1.35" fill="#fff" stroke-linejoin="round">
<path d="M171,384.7 C177,383 183,382.3 188.5,382.6 C195,383.2 200.5,385.2 205,387.8 C209,390 212,392.3 214.2,395 C216.5,398 217.8,400.5 218.3,403.2 C218.8,406 219,410 218.5,414 C218.2,416.5 217.8,418 217.3,419.5 C216.2,421 215,422 213.7,422.9 C210.5,424.6 207,425.8 203.9,426.6 C200,427.5 196.5,428 192.6,428.2 C188.5,428.4 185,428.5 181.3,428.5 L170.8,429 L170.8,418 C175,417.5 179,416 180.5,413 C181,410 179,408 173.6,407.7 Z"/>
<path d="M153.6,421.5 L168,419.5 C178,418.5 190,424.5 180.5,427.5 L180.5,432.5 C175,434 165,434.5 159.8,433.9 C156,433 154.3,432 154.3,431.2 Z"/>
<path d="M143.3,385.7 C143.3,382 145,379.5 148,379 L168,378.2 C171,378.5 172.5,380 172.5,382.8 L172.9,408 L150.2,406 C146,405.5 143.6,404.5 143.3,403.6 Z"/>
<path d="M143.3,385.7 C150,386.8 160,386 172.5,382.8" fill="none"/>
</g>
<path d="M148.8,391.6 L167.4,390 L168.1,407.9 L150.2,406 Z" fill="#000"/>
<path d="M167.4,390 L172.5,383.5 L172.9,408.4 L168.1,407.9 Z" fill="#000"/>
<path d="M218.8,409 C219,411 218.8,412.5 218.5,414 C218.2,416.5 217.8,418 217.3,419.5 C216.2,421 215,422 213.7,422.9 C210.5,424.6 207,425.8 203.9,426.6 C200,427.5 196.5,428 192.6,428.2 C188.5,428.4 185,428.5 181.3,428.5 L170.8,429 L170.8,425.6 L181.3,425.1 C186,424.6 191,424.1 196.4,423.3 C200.5,422.5 204.5,421.7 207.7,420.6 C211,419.5 213.5,418 215.2,416.1 C216.8,414.3 218,412 218.8,409 Z" fill="#000"/>
<path d="M170.8,427 L180.5,427 L180.5,434 L170.8,435 Z" fill="#000"/>
<ellipse cx="168.8" cy="420.8" rx="2" ry="1.4" fill="#fff" stroke="#000" stroke-width="1.15"/>
<path d="M147.4,380.5 V377.5 M161.9,377.4 V375 M164.4,377.2 V375 M155.7,381.5 V386" stroke="#000" stroke-width="1.3"/>
<path d="M154.5,381.3 H157" stroke="#000" stroke-width="1"/>
<!-- 39 -->
<g stroke="#000" stroke-width="1.25" fill="#fff" stroke-linejoin="round">
<path d="M121,406.8 L129.7,405.1 L141.2,409.8 L136.8,411.7 Z"/>
<path d="M121,406.8 L136.8,411.7 L137.4,416.1 L121.5,410 Z"/>
<path d="M136.8,411.7 L141.2,409.8 L141.8,413.9 L137.4,416.1 Z"/>
</g>
<path d="M137.3,413 L141.5,411.5 L141.8,413.9 L137.6,416 Z" fill="#000"/>
<path d="M131.9,414 V423.8" stroke="#000" stroke-width="1.15"/>
<!-- screws 34, 36 lower, 37, 38 -->
<g stroke="#000" stroke-width="1.15" fill="none">
<path d="M154.5,406 V461 M168.3,434 V441"/>
<path d="M156.4,471.4 H166.5 M170.5,471.4 H183.4 M170.5,451.2 H183.4"/>
<path d="M199.9,435.1 H240.4 M227.9,446 H240.4"/>
</g>
<g stroke="#000" stroke-width="1" fill="#fff">
<path d="M152.6,461 H156.4 V478 H152.6 Z"/>
<path d="M150,478 H159 V483.5 C157,485.8 152,485.8 150,483.5 Z"/>
<path d="M166.7,461 H170.5 V478 H166.7 Z"/>
<path d="M164.1,478 H173.1 V483.5 C171,485.8 166,485.8 164.1,483.5 Z"/>
<path d="M166.7,441 H170 V447.5 H166.7 Z"/>
<path d="M164,447.3 H172.5 V453.6 C170.5,455 166,455 164,453.6 Z"/>
</g>
<path d="M152.6,463 H156.4 M152.6,465.5 H156.4 M152.6,468 H156.4 M152.6,470.5 H156.4 M152.6,473 H156.4 M166.7,463 H170.5 M166.7,465.5 H170.5 M166.7,468 H170.5 M166.7,470.5 H170.5 M166.7,473 H170.5" stroke="#000" stroke-width="0.5"/>
<path d="M154.5,485.5 V488 M168.6,485.5 V488" stroke="#000" stroke-width="1.15"/>
<circle cx="197" cy="435.1" r="2.5" fill="#000"/>
<path d="M209.5,437.7 L225.5,444.6 L224.6,446.8 L208.6,439.9 Z" fill="#fff" stroke="#000" stroke-width="1.15"/>
<circle cx="226.2" cy="446" r="2.1" fill="#fff" stroke="#000" stroke-width="1.3"/>
<!-- part 1 motor housing -->
<g stroke="#000" stroke-width="1.15" fill="none">
<path d="M316.7,345.9 V366.5 M380,350.5 V386.5"/>
</g>
<g stroke="#000" stroke-width="1.35" fill="#fff" stroke-linejoin="round">
<path d="M328.3,370.3 L407.5,358.7 C411,360 414,363 415.5,367 C418,373 418.8,382 417.8,390 C417,395 415.5,398 413.5,399.5 L335.4,411.2 Z"/>
</g>
<path d="M331,373.8 L412.9,363.2 M332.7,381.9 L398.6,372" stroke="#000" stroke-width="1" fill="none"/>
<path d="M334.5,399.7 L416.5,391 C416,395 415,398 413.5,399.5 L335.4,411.2 Z" fill="#000"/>
<path d="M334,400.5 L416.6,391.6 L415.5,396.5 L413,399.8 L335.4,411.5 Z" fill="#000"/>
<!-- slot -->
<path d="M362.5,382.5 L394.5,378.3 C397.5,378 398,382.5 395,383 L362.7,387.2 C359.7,387.5 359.5,382.8 362.5,382.5 Z" fill="#fff" stroke="#000" stroke-width="1"/>
<!-- BOSCH badge -->
<path d="M378.2,387.2 L408.4,384.6 L408.6,390.2 L378.4,393.6 Z" fill="#fff" stroke="#000" stroke-width="1.4"/>
<text x="380" y="392.6" font-family="Liberation Sans, sans-serif" font-weight="bold" font-size="5.6" fill="#000" textLength="26.5" lengthAdjust="spacingAndGlyphs" transform="rotate(-6 380 392)">BOSCH</text>
<!-- top hole -->
<ellipse cx="393.3" cy="362.8" rx="3.2" ry="1.6" fill="#fff" stroke="#000" stroke-width="1.15"/>
<path d="M390.5,362.5 C391.5,361.3 395,361.2 396,362.3 L394,363.5 Z" fill="#000"/>
<!-- ring front -->
<path d="M311,366.7 L321,365.9 C328.5,366 334.6,378 334.6,393.5 C334.6,409 328.5,421 321,421.2 L311,422 Z" fill="#fff" stroke="#000" stroke-width="1.35"/>
<path d="M322.5,416.5 C326.5,412 331,406 333,400 L334.6,398.5 C334.3,410 329.5,420.8 321.5,421.6 L314,422 C317.5,421 320,419 322.5,416.5 Z" fill="#000"/>
<ellipse cx="311" cy="394.6" rx="13.8" ry="27.3" fill="#fff" stroke="#000" stroke-width="1.35"/>
<ellipse cx="310.8" cy="394.8" rx="11.6" ry="25.1" fill="#fff" stroke="#000" stroke-width="1.1"/>
<ellipse cx="311" cy="395" rx="9.8" ry="23" fill="none" stroke="#000" stroke-width="0.9"/>
<path d="M315.5,373.5 C319.5,379 321.2,387 321.3,395 C321.3,403 319.5,410 316.5,415.5 L318,416 C321.5,410 323,403 323,395 C323,386.5 321,378.5 317,372.5 Z" fill="#000"/>
<g fill="#111">
<path d="M305.5,378.2 L315.2,376.6 L315.8,380.6 L306,382 Z"/>
<path d="M304.2,388.4 L310.6,387.6 L310.8,392 L304.4,392.7 Z"/>
<path d="M304.8,398 L312.4,397.2 L312.6,401.8 L305,402.6 Z"/>
<path d="M309.3,409 C312,407.5 316,407.3 319.6,408 L319.2,410.5 C316,410 312.5,410.3 309.8,411.6 Z"/>
</g>
<path d="M304.5,379 L302.5,379.8 M303.6,388.6 L301.6,389.2 M304.2,398.3 L302.2,399" stroke="#000" stroke-width="0.9"/>
<path d="M297,397 L323.5,392.9" stroke="#000" stroke-width="1.25"/>
<!-- trigger lever -->
<path d="M362,417.3 L412.9,397 L414.7,401.4 L363,423.5 C359,425 357.5,419 362,417.3 Z" fill="#fff" stroke="#000" stroke-width="1.25"/>
<path d="M363.5,421.8 L414,400.3 L414.7,401.4 L363,423.5 Z" fill="#000"/>
<ellipse cx="392.4" cy="405" rx="1.8" ry="1.3" fill="#fff" stroke="#000" stroke-width="1.15"/>
<ellipse cx="413.5" cy="397" rx="2" ry="2.6" fill="#fff" stroke="#000" stroke-width="1"/>
<!-- 48 49 47 -->
<path d="M393.2,313.2 V317" stroke="#000" stroke-width="0.9"/>
<path d="M389.9,318.5 C390,316 396.5,316 397,318.5 L397.2,326 C396,328.5 391,328.5 390,326 Z" fill="#fff" stroke="#000" stroke-width="1.35"/>
<path d="M391.5,318 V327 M393.2,317.5 V327.5 M395,318 V327" stroke="#555" stroke-width="0.8"/>
<path d="M391.5,327.5 L395.5,327.5 L394.8,330 L392.2,330 Z" fill="#000"/>
<path d="M391.3,331.5 L394.9,333.0 L391.3,334.5 L394.9,336.0 L391.3,337.5 L394.9,339.0 L391.3,340.5 L394.9,342.0 L391.3,343.5 L394.9,345.0 L391.3,346.5 L394.9,348.0 L391.3,349.5" fill="none" stroke="#000" stroke-width="1.5"/>
<circle cx="393.1" cy="355" r="2.5" fill="#000"/>
<path d="M392.9,357 V361" stroke="#000" stroke-width="1.15"/>
<path d="M397.9,322.3 H415.2 M396.6,341 H415.2 M395.4,355.1 H415.2" stroke="#000" stroke-width="1.15"/>
<!-- axis right -->
<path d="M417.5,376.8 L422,376.1 M426.6,375.3 L431.5,374.6 M445,372.4 L448.7,371.6 M452.7,371 L458,370 M473.5,366.6 L480,365 M514,359.4 L520.5,358.3" stroke="#000" stroke-width="1.15"/>
<!-- 46 -->
<ellipse cx="424.3" cy="375.6" rx="2.3" ry="3.3" fill="#fff" stroke="#000" stroke-width="1.6"/>
<path d="M424.7,379 V396" stroke="#000" stroke-width="1.15"/>
<!-- 50 -->
<path d="M433.1,371.1 L443.6,369 C445.3,369.8 445.6,375 443.9,376 L433.5,378.5 Z" fill="#fff" stroke="#000" stroke-width="1"/>
<path d="M433.4,376.5 L444,374 L443.9,376 L433.5,378.6 Z" fill="#000"/>
<ellipse cx="433.2" cy="374.8" rx="1.6" ry="3.7" fill="#fff" stroke="#000" stroke-width="1.25"/>
<path d="M439.6,377.7 V394" stroke="#000" stroke-width="1.15"/>
<!-- 53 -->
<ellipse cx="450.7" cy="371.1" rx="2" ry="3.6" fill="#fff" stroke="#000" stroke-width="1.4"/>
<path d="M451,374.7 V390" stroke="#000" stroke-width="1.15"/>
<!-- 71 -->
<path d="M460,358.5 C462,356 466,356 468,357.5 C471.5,360 473.5,365 473.5,370 L473,376 L466,377.8 C463,378 460,376 458.5,373 Z" fill="#fff" stroke="#000" stroke-width="1.25"/>
<ellipse cx="463.2" cy="368.8" rx="5.6" ry="10.4" fill="#fff" stroke="#000" stroke-width="1.35"/>
<ellipse cx="463.9" cy="370" rx="2" ry="3.4" fill="#fff" stroke="#000" stroke-width="1.25"/>
<path d="M472.5,375 L475.2,375.5 L475,378.5 L471.5,378.5 Z" fill="#000"/>
<path d="M469.5,379 V388" stroke="#000" stroke-width="1.15"/>
<!-- 72 -->
<path d="M481,362.5 L492.5,360.5 L493,367 L481.5,369 C480,368 480,363.5 481,362.5 Z" fill="#fff" stroke="#000" stroke-width="1"/>
<path d="M483,362.5 L483.5,368.5 M485,362.1 L485.5,368.2 M487,361.8 L487.5,367.8 M489,361.4 L489.5,367.5 M491,361.1 L491.5,367.1" stroke="#000" stroke-width="0.6"/>
<path d="M492.5,359.8 L497.5,359 C499.5,360 499.6,365.5 498.3,366.6 L493.3,367.4 Z" fill="#fff" stroke="#000" stroke-width="1.25"/>
<path d="M495,359.5 L495.6,367" stroke="#000" stroke-width="0.8"/>
<path d="M499,361 L504.5,360 L505,364.5 L499.3,365.3 Z" fill="#fff" stroke="#000" stroke-width="1"/>
<ellipse cx="506.5" cy="361.8" rx="1.8" ry="3" fill="#fff" stroke="#000" stroke-width="1"/>
<ellipse cx="510.5" cy="361" rx="1.8" ry="2.8" fill="#fff" stroke="#000" stroke-width="1"/>
<path d="M495.6,367.5 V381.5" stroke="#000" stroke-width="1.15"/>
<!-- 56 57 54 55 -->
<path d="M434.8,426 L439.2,426 L439.2,442.3 L434.8,442.3 Z" fill="#fff" stroke="#000" stroke-width="1.25"/>
<path d="M434.8,433.5 H439.2" stroke="#000" stroke-width="1"/>
<path d="M435.5,427.5 L436.5,432 M436,435.5 L437,440" stroke="#000" stroke-width="0.7"/>
<path d="M437.3,420.1 V426 M437.2,442.3 V447 M439.8,429.8 H455.6 M417,436.1 H426.7" stroke="#000" stroke-width="1.15"/>
<circle cx="437.3" cy="421" r="1" fill="none" stroke="#000" stroke-width="0.8"/>
<ellipse cx="428.3" cy="436.4" rx="2.2" ry="1.8" fill="#000"/>
<path d="M400,460.8 L447,452 L465.3,448.5 L466,452.5 L401,464.8 C397.5,465 397.5,461.5 400,460.8 Z" fill="#fff" stroke="#000" stroke-width="1.25"/>
<path d="M447.9,443.5 L458,441.5 L467,443.5 L467.5,451 L450,454.5 L448.2,452 Z" fill="#fff" stroke="#000" stroke-width="1.25"/>
<path d="M448.2,446.5 L453,445.5 L455,447 L455.3,453.4" fill="none" stroke="#000" stroke-width="1"/>
<path d="M457,446 L462,445 L466,447" fill="none" stroke="#000" stroke-width="1"/>
<path d="M444,441.5 L448,443.5" stroke="#000" stroke-width="1.15"/>
<path d="M460.3,447.3 L496,460.6 M460.3,448.8 L495.5,462.4" stroke="#000" stroke-width="1"/>
<path d="M494,460.5 L496.5,461.5" stroke="#000" stroke-width="2"/>
<path d="M467.2,445.6 H484.6 M495.2,457.8 H503.9" stroke="#000" stroke-width="1.15"/>
<!-- extra labels -->
<g font-family="Liberation Sans, sans-serif" font-weight="bold" font-size="11" fill="#000">
<text x="469" y="50.8" textLength="70.8" lengthAdjust="spacingAndGlyphs">801 (4,40,42)</text>
<text x="306.8" y="461.9" textLength="18" lengthAdjust="spacingAndGlyphs">806</text>
<text x="327" y="461.9" textLength="38.6" lengthAdjust="spacingAndGlyphs">(46–57)</text>
</g>
<g stroke="#000" stroke-width="1.3" fill="none">
<path d="M550.6,64.3 Q555.6,71.4 550.6,78.5 M558.8,64.3 Q553.8,71.4 558.8,78.5"/>
</g>
<!-- plate 31 -->
<path d="M131.5,102.3 L137,98.8 L171,94.3 L178,95.3 L182.8,99.3 L182.8,101.6 L145.5,109.6 L133.5,106.3 Z" fill="#fff" stroke="#000" stroke-width="1.8" stroke-linejoin="round"/>
<path d="M133,104.5 L145.5,107.3 L182.5,100 M145.5,107.3 L145.5,109.6" fill="none" stroke="#000" stroke-width="1.25"/>
<path d="M142,101.5 L170,96.8 L172.5,98.3 L146,103.3 Z" fill="#333"/>
<path d="M147.5,104.6 L172,100.2 L176,100.5 L149.5,105.8 Z" fill="#555"/>
<path d="M134.5,103 L139,102.3 L140.5,104.5 L136,105 Z M174.5,98.5 L179.5,98.8 L180.5,100.3 L176,100.8 Z" fill="#666"/>
<!-- screws 32 -->
<g stroke="#000" stroke-width="1" fill="#fff">
<path d="M139.4,93 L140,101" />
<ellipse cx="139.3" cy="92.2" rx="2.1" ry="1.5" fill="#000"/>
<path d="M170,88.5 L170.6,96"/>
<ellipse cx="169.8" cy="87.7" rx="2.1" ry="1.5" fill="#000"/>
</g>
<path d="M334.9,204 L335.3,208.8 L344.7,204.6 Z" fill="#000"/>
<path d="M393.8,210.3 V215" stroke="#000" stroke-width="1.15"/>

</svg>
</body></html>
